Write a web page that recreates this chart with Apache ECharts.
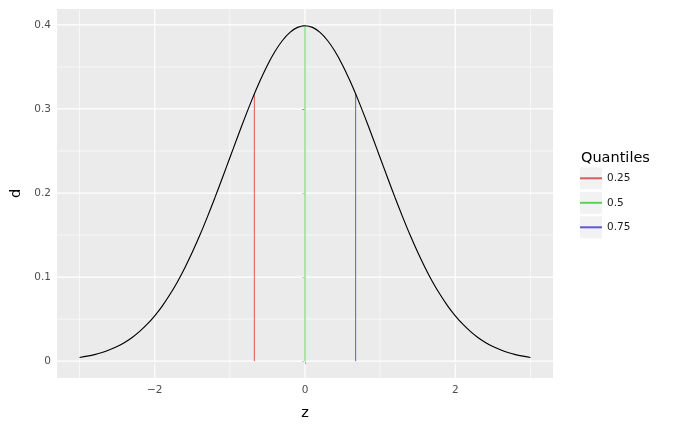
<!DOCTYPE html>
<html>
<head>
<meta charset="utf-8">
<script src="https://cdn.jsdelivr.net/npm/echarts@6/dist/echarts.min.js"></script>
<style>html,body{margin:0;padding:0;background:#fff}#c{width:679px;height:430px}</style>
</head>
<body>
<div id="c"></div>
<script>
// Density curve
const zVals = [-3.0,-2.9,-2.8,-2.7,-2.6,-2.5,-2.4,-2.3,-2.2,-2.1,-2.0,-1.9,-1.8,-1.7,-1.6,-1.5,-1.4,-1.3,-1.2,-1.1,-1.0,-0.9,-0.8,-0.7,-0.6,-0.5,-0.4,-0.3,-0.2,-0.1,0.0,0.1,0.2,0.3,0.4,0.5,0.6,0.7,0.8,0.9,1.0,1.1,1.2,1.3,1.4,1.5,1.6,1.7,1.8,1.9,2.0,2.1,2.2,2.3,2.4,2.5,2.6,2.7,2.8,2.9,3.0];
const dVals = [0.0044,0.0060,0.0079,0.0104,0.0136,0.0175,0.0224,0.0283,0.0355,0.0440,0.0540,0.0656,0.0790,0.0940,0.1109,0.1295,0.1497,0.1714,0.1942,0.2179,0.2420,0.2661,0.2897,0.3123,0.3332,0.3521,0.3683,0.3814,0.3910,0.3970,0.3989,0.3970,0.3910,0.3814,0.3683,0.3521,0.3332,0.3123,0.2897,0.2661,0.2420,0.2179,0.1942,0.1714,0.1497,0.1295,0.1109,0.0940,0.0790,0.0656,0.0540,0.0440,0.0355,0.0283,0.0224,0.0175,0.0136,0.0104,0.0079,0.0060,0.0044];
// Quantile segments
const qLabels = ['0.25','0.5','0.75'];
const qZ = [-0.674, 0, 0.674];
const qD = [0.318, 0.399, 0.318];
const qColors = ['#d95b5b','#5bd35b','#5b5bdb'];
// Ticks
const xTicks = [-2, 0, 2];
const xMinor = [-3, -1, 1, 3];
const yTicks = [0, 0.1, 0.2, 0.3, 0.4];
const yMinor = [0.05, 0.15, 0.25, 0.35];

const X_MIN = -3.3, X_MAX = 3.3, Y_MIN = -0.01995, Y_MAX = 0.41886;
const FONT = 'DejaVu Sans';
const chart = echarts.init(document.getElementById('c'), null, {renderer: 'canvas'});

const series = [];
function gridSeries(data, width) {
  return {type: 'line', data: data, silent: true, z: 1, symbol: 'none', animation: false,
    lineStyle: {color: '#ffffff', width: width}, legendHoverLink: false};
}
xMinor.forEach(v => series.push(gridSeries([[v, Y_MIN], [v, Y_MAX]], 0.6)));
yMinor.forEach(v => series.push(gridSeries([[X_MIN, v], [X_MAX, v]], 0.6)));
xTicks.forEach(v => series.push(gridSeries([[v, Y_MIN], [v, Y_MAX]], 1.2)));
yTicks.forEach(v => series.push(gridSeries([[X_MIN, v], [X_MAX, v]], 1.2)));
// quantile segments
qLabels.forEach((lab, i) => {
  series.push({
    type: 'line', name: lab, z: 2, symbol: 'none', animation: false,
    itemStyle: {color: qColors[i]},
    lineStyle: {color: qColors[i], width: 1},
    data: [[qZ[i], 0], [qZ[i], qD[i]]]
  });
});
// curve
series.push({
  type: 'line', name: 'density', z: 3, symbol: 'none', smooth: 0.3, animation: false,
  lineStyle: {color: '#000000', width: 1.15},
  data: zVals.map((z, i) => [z, dVals[i]])
});

const keyTops = [167.3, 191.8, 216.3];

chart.setOption({
  animation: false,
  textStyle: {fontFamily: FONT},
  grid: {left: 57, right: 126, top: 9, bottom: 52, show: true, backgroundColor: '#ebebeb', borderWidth: 0, containLabel: false},
  xAxis: {
    type: 'value', min: X_MIN, max: X_MAX,
    name: 'z', nameLocation: 'middle', nameGap: 28,
    nameTextStyle: {color: '#000', fontSize: 14.5, fontFamily: FONT},
    axisLine: {show: false},
    axisTick: {show: true, length: 3, customValues: xTicks, lineStyle: {color: '#333333', width: 1}},
    axisLabel: {customValues: xTicks, color: '#4d4d4d', fontSize: 10.5, margin: 7, fontFamily: FONT,
      formatter: v => String(v).replace('-', '\u2212')},
    splitLine: {show: false}
  },
  yAxis: {
    type: 'value', min: Y_MIN, max: Y_MAX,
    name: 'd', nameLocation: 'middle', nameGap: 30, nameRotate: 90,
    nameTextStyle: {color: '#000', fontSize: 14.5, fontFamily: FONT},
    axisLine: {show: false},
    axisTick: {show: true, length: 3, customValues: yTicks, lineStyle: {color: '#333333', width: 1}},
    axisLabel: {customValues: yTicks, color: '#4d4d4d', fontSize: 10.5, margin: 6, fontFamily: FONT,
      formatter: v => (Math.abs(v) < 1e-9 ? '0' : v.toFixed(1))},
    splitLine: {show: false}
  },
  legend: {
    data: qLabels, orient: 'vertical', left: 580, top: 167.3,
    icon: 'rect', itemWidth: 22, itemHeight: 2, itemGap: 2.5,
    padding: 0, selectedMode: false,
    textStyle: {fontSize: 10.5, lineHeight: 22, color: '#1a1a1a', fontFamily: FONT}
  },
  graphic: [
    {type: 'text', left: 581, top: 151, style: {text: 'Quantiles', fontSize: 14.5, fontFamily: FONT, fill: '#000'}},
    ...keyTops.map(t => ({type: 'rect', z: -1, shape: {x: 580, y: t, width: 22, height: 22}, style: {fill: '#f2f2f2'}}))
  ],
  series: series
});
</script>
</body>
</html>
